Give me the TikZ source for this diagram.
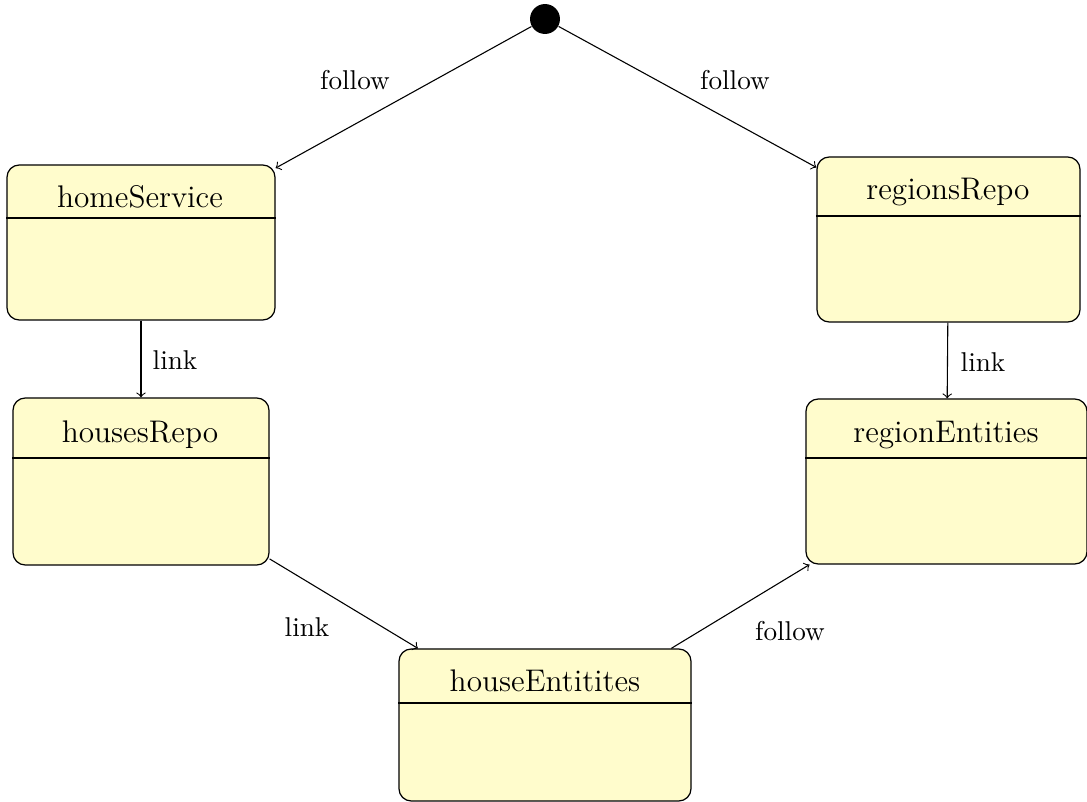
\documentclass[tikz,border=0pt]{standalone}
\usetikzlibrary{fit}
\begin{document}
\begin{tikzpicture}[x=0.3676pt,y=-0.3676pt,
  statebox/.style={draw,fill=yellow!20,rounded corners=4.5pt,inner sep=0pt,line width=0.45pt},
  statename/.style={anchor=base,inner sep=0pt,font=\fontsize{11.5}{13}\selectfont},
  lbl/.style={font=\fontsize{10}{12}\selectfont,inner sep=0pt},
  arr/.style={->,line width=0.4pt}]
\useasboundingbox (0,0) rectangle (1087,802);
% initial state
\node[circle,fill=black,inner sep=0pt,minimum size=11pt] (init) at (545,19) {};
% boxes
\node[statebox,fit={(7,165) (275,320)}] (hs) {};
\node[statebox,fit={(13,398) (269,565)}] (hr) {};
\node[statebox,fit={(399,649) (691,801)}] (he) {};
\node[statebox,fit={(817,157) (1080,322)}] (rr) {};
\node[statebox,fit={(806,399) (1087,564)}] (re) {};
% header lines
\coordinate (hsl) at (0,218);
\coordinate (hrl) at (0,458);
\coordinate (hel) at (0,703);
\coordinate (rrl) at (0,216);
\coordinate (rel) at (0,458);
\draw (hs.west |- hsl) -- (hs.east |- hsl);
\draw (hr.west |- hrl) -- (hr.east |- hrl);
\draw (he.west |- hel) -- (he.east |- hel);
\draw (rr.west |- rrl) -- (rr.east |- rrl);
\draw (re.west |- rel) -- (re.east |- rel);
% names
\node[statename] (hst) at (140,208) {homeService};
\node[statename] (hrt) at (140,443) {housesRepo};
\node[statename] (het) at (545,692) {houseEntitites};
\node[statename] (rrt) at (948,200) {regionsRepo};
\node[statename] (ret) at (946,443) {regionEntities};
% connectors
\draw[arr] (init) -- (hs);
\draw[arr] (init) -- (rr);
\draw[arr] (hs) -- (hr);
\draw[arr] (rr) -- (re);
\draw[arr] (hr) -- (he);
\draw[arr] (he) -- (re);
% labels
\node[lbl] (l1) at (355,80) {follow};
\node[lbl] (l2) at (735,80) {follow};
\node[lbl] (l3) at (175,360) {link};
\node[lbl] (l4) at (983,362) {link};
\node[lbl] (l5) at (307,627) {link};
\node[lbl] (l6) at (790,631) {follow};
\end{tikzpicture}
\end{document}
